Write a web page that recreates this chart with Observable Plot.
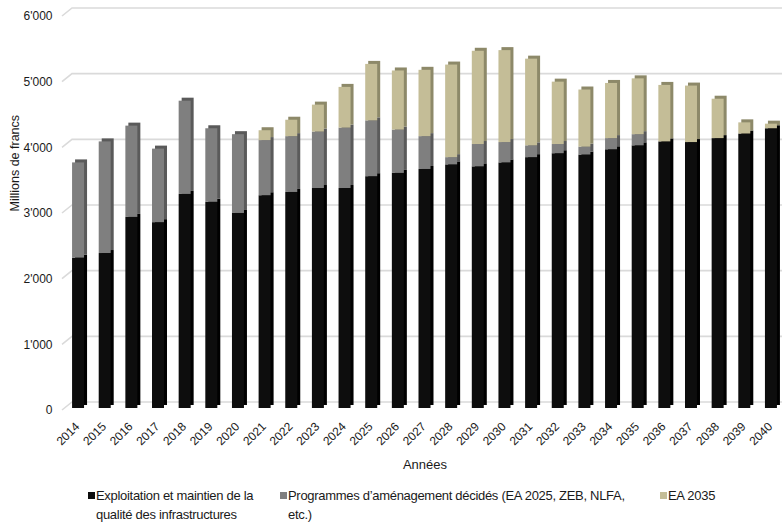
<!DOCTYPE html>
<html>
<head>
<meta charset="utf-8">
<script src="https://cdn.jsdelivr.net/npm/d3@7"></script>
<script src="https://cdn.jsdelivr.net/npm/@observablehq/plot@0.6"></script>
<style>
  body { margin: 0; background: #fff; font-family: "Liberation Sans", Arial, sans-serif; }
  #wrap { position: relative; width: 782px; height: 523px; }
  .leg { position: absolute; top: 486px; font-size: 13px; line-height: 19px; color: #1a1a1a; letter-spacing: -0.3px; }
  .sw { position: absolute; left: -8px; top: 6px; width: 7px; height: 7px; }
</style>
</head>
<body>
<div id="wrap"></div>
<script>
const years = ["2014","2015","2016","2017","2018","2019","2020","2021","2022","2023","2024","2025","2026","2027","2028","2029","2030","2031","2032","2033","2034","2035","2036","2037","2038","2039","2040"];
const exploitation = [2290,2360,2910,2830,3260,3140,2970,3240,3290,3350,3350,3530,3580,3640,3710,3680,3740,3820,3880,3860,3940,4000,4060,4050,4110,4180,4260];
const programmes   = [1450,1700,1390,1120,1420,1120,1200,840,850,860,920,850,660,500,110,340,310,180,140,120,170,170,0,0,0,0,0];
const ea2035       = [0,0,0,0,0,0,0,150,250,410,620,860,900,1010,1410,1420,1400,1320,950,870,840,850,860,860,600,170,70];
const seriesNames = ["Exploitation et maintien de la qualité des infrastructures", "Programmes d’aménagement décidés (EA 2025, ZEB, NLFA, etc.)", "EA 2035"];
const yTicks = [0,1000,2000,3000,4000,5000,6000];
const frontColors = ["#0d0d0d", "#7f7f7f", "#c4bd97"];
const sideColors  = ["#000000", "#5a5a5a", "#8d8969"];

const seriesValues = [exploitation, programmes, ea2035];
// stack manually
const rows = [];
years.forEach((yr, i) => {
  let base = 0;
  seriesValues.forEach((vals, s) => {
    rows.push({year: yr, s, y1: base, y2: base + vals[i]});
    base += vals[i];
  });
});

const grid = (index, scales, values, dim) => {
  const g = d3.create("svg:g");
  for (const t of yTicks) {
    const y = scales.y(t);
    g.append("path")
      .attr("d", `M${dim.marginLeft - 5},${y + 2}L${dim.marginLeft + 5},${y - 6}H${dim.width}`)
      .attr("fill", "none").attr("stroke", "#dadada").attr("stroke-width", 1.6);
  }
  return g.node();
};

const marks = [grid];
seriesValues.forEach((_, s) => {
  marks.push(Plot.barY(rows.filter(r => r.s === s && r.y2 > r.y1), {x: "year", y1: "y1", y2: "y2", fill: sideColors[s], dx: 3, dy: -3}));
});
seriesValues.forEach((_, s) => {
  marks.push(Plot.barY(rows.filter(r => r.s === s && r.y2 > r.y1), {x: "year", y1: "y1", y2: "y2", fill: frontColors[s]}));
});
marks.push(
  Plot.axisY({ticks: yTicks, tickSize: 0, tickPadding: 15, dy: 2, label: null, fontSize: 12,
    tickFormat: d => d3.format(",")(d).replace(/,/g, "'")}),
  Plot.axisX({tickRotate: -45, tickSize: 0, tickPadding: 8, dy: 8, dx: -1, label: null, fontSize: 12}),
  Plot.text(["Années"], {frameAnchor: "bottom", dy: 60, fontSize: 13, fill: "#1a1a1a"}),
  Plot.text(["Millions de francs"], {frameAnchor: "left", dx: -53, rotate: -90, fontSize: 12.5, fill: "#1a1a1a"})
);

const plot = Plot.plot({
  width: 782,
  height: 475,
  marginTop: 14,
  marginBottom: 67,
  marginLeft: 67,
  marginRight: 0,
  style: {fontFamily: "'Liberation Sans', Arial, sans-serif", color: "#1a1a1a", background: "#fff"},
  x: {domain: years, paddingInner: 0.55, paddingOuter: 0.19, round: false, axis: null},
  y: {domain: [0, 6000], axis: null},
  marks
});
const wrap = document.getElementById("wrap");
wrap.appendChild(plot);

const legPos = [{left: 96, width: 175}, {left: 288, width: 362}, {left: 668, width: 100}];
seriesNames.forEach((name, s) => {
  const d = document.createElement("div");
  d.className = "leg";
  d.style.left = legPos[s].left + "px";
  d.style.width = legPos[s].width + "px";
  const sw = document.createElement("span");
  sw.className = "sw";
  sw.style.background = frontColors[s];
  d.appendChild(sw);
  d.appendChild(document.createTextNode(name));
  wrap.appendChild(d);
});
</script>
</body>
</html>
